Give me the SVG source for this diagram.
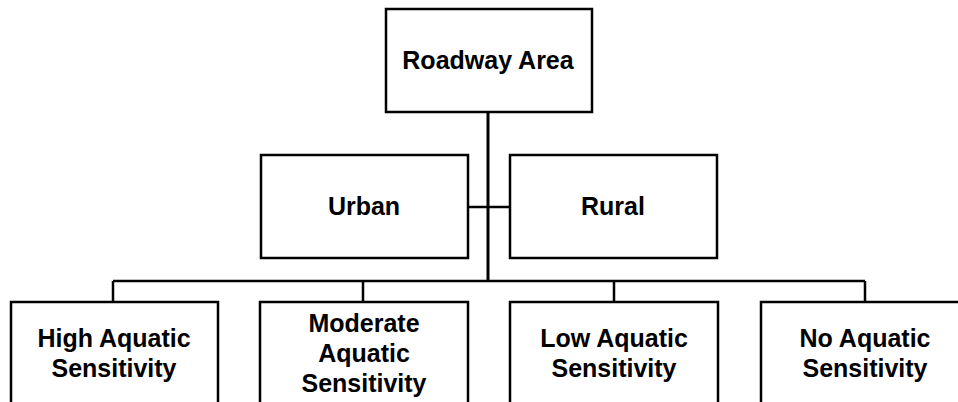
<svg xmlns="http://www.w3.org/2000/svg" width="958" height="402" viewBox="0 0 958 402">
<style>
.box{fill:#fff;stroke:#000;stroke-width:2.5}
.lbl{font-family:"Liberation Sans",Arial,sans-serif;font-weight:bold;font-size:25px;fill:#000;text-anchor:middle}
.con{fill:none;stroke:#000;stroke-width:2.5}
</style>
<rect width="958" height="402" fill="#fff"/>
<g id="connectors">
<path class="con" style="stroke-width:3" d="M488 112 V281"/>
<path class="con" d="M468 207 H510"/>
<path class="con" d="M113 281 H865 M113 281 V302 M363 281 V302 M614 281 V302 M865 281 V302"/>
</g>
<g id="roadway"><rect class="box" x="386" y="9" width="206" height="103"/><text class="lbl" x="488" y="69">Roadway Area</text></g>
<g id="urban"><rect class="box" x="261" y="155" width="207" height="103"/><text class="lbl" x="364" y="215">Urban</text></g>
<g id="rural"><rect class="box" x="510" y="155" width="207" height="103"/><text class="lbl" x="613" y="215">Rural</text></g>
<g id="high"><rect class="box" x="11" y="302" width="207" height="110"/><text class="lbl" x="114" y="347">High Aquatic</text><text class="lbl" x="114" y="377">Sensitivity</text></g>
<g id="moderate"><rect class="box" x="260" y="302" width="208" height="110"/><text class="lbl" x="364" y="332">Moderate</text><text class="lbl" x="364" y="362">Aquatic</text><text class="lbl" x="364" y="392">Sensitivity</text></g>
<g id="low"><rect class="box" x="510" y="302" width="208" height="110"/><text class="lbl" x="614" y="347">Low Aquatic</text><text class="lbl" x="614" y="377">Sensitivity</text></g>
<g id="none"><rect class="box" x="761" y="302" width="207" height="110"/><text class="lbl" x="865" y="347">No Aquatic</text><text class="lbl" x="865" y="377">Sensitivity</text></g>
</svg>
